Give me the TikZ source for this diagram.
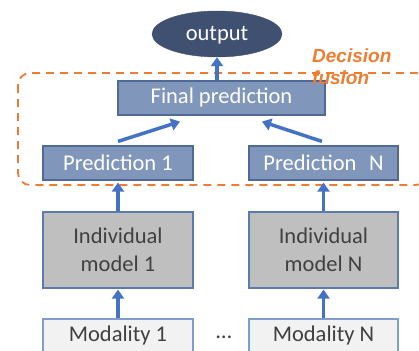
\documentclass[tikz,border=0pt]{standalone}
\usepackage{fontspec}
\setmainfont{Carlito}
\newfontfamily\arialfont{Liberation Sans}
\usetikzlibrary{shapes.geometric,arrows.meta,calc}
\definecolor{predfill}{HTML}{8096BA}
\definecolor{predline}{HTML}{4F6A96}
\definecolor{outfill}{HTML}{3F5070}
\definecolor{modelfill}{HTML}{BFBFBF}
\definecolor{modelline}{HTML}{5B7AAE}
\definecolor{modfill}{HTML}{F2F2F2}
\definecolor{modline}{HTML}{7F9CCF}
\definecolor{arrowblue}{HTML}{4472C4}
\definecolor{fusionorange}{HTML}{ED7D31}
\definecolor{textgrey}{HTML}{404040}
\tikzset{
  boxfont/.style={font=\fontsize{22.5}{27}\selectfont},
  predbox/.style={draw=predline, line width=1.2pt, fill=predfill, text=white,
    minimum height=34pt, inner sep=0pt, boxfont},
  modelbox/.style={draw=modelline, line width=1.2pt, fill=modelfill, text=textgrey,
    minimum width=150pt, minimum height=76pt, inner sep=0pt, align=center,
    font=\fontsize{22.5}{28}\selectfont},
  modbox/.style={draw=modline, line width=1.2pt, fill=modfill, text=textgrey,
    minimum width=150pt, minimum height=33pt, inner sep=0pt, boxfont},
  flow/.style={draw=arrowblue, line width=3.5pt,
    -{Triangle[width=12pt,length=9pt]}},
}
\begin{document}
\begin{tikzpicture}[x=1pt,y=-1pt]
\useasboundingbox (0,0) rectangle (419,350);

% decision fusion frame (runs off the right edge)
\draw[fusionorange, line width=1.8pt, dash pattern=on 8pt off 6pt, rounded corners=12pt]
  (18,73) rectangle (428,185);

% output
\node[ellipse, fill=outfill, draw=outfill, minimum width=130pt, minimum height=46pt,
  inner sep=0pt, text=white, boxfont] (out) at (217,34)
  {\raisebox{-6.5pt}[0pt][0pt]{output}};

% predictions
\node[predbox, minimum width=207pt] (fin) at (221.5,98) {Final prediction};
\node[predbox, minimum width=150pt] (p1) at (118,163) {Prediction 1};
\node[predbox, minimum width=149pt] (pn) at (323.5,163) {Prediction\,\, N};

% individual models
\node[modelbox] (m1) at (118,250) {Individual\\model 1};
\node[modelbox, minimum width=149pt] (mn) at (323.5,250) {Individual\\model N};

% modalities
\node[modbox] (d1) at (118,335.5) {Modality 1};
\node[modbox, minimum width=149pt] (dn) at (323.5,335.5) {Modality N};
\node[text=textgrey, boxfont, anchor=base, inner sep=0pt] (dots) at (224,338) {\dots};

% label of the frame
\node[anchor=north west, inner sep=0pt, align=left, text=fusionorange,
  font=\arialfont\bfseries\itshape\fontsize{19}{21.5}\selectfont] (lbl) at (312,49)
  {Decision\\fusion};

% arrows
\draw[flow] (out.south |- fin.north) -- (out.south);
\draw[flow] ($(p1.north)+(0,-4)$) -- ($(fin.south)+(-41.5,6)$);
\draw[flow] ($(pn.north)+(-1.5,-4)$) -- ($(fin.south)+(40.5,6)$);
\draw[flow] (m1.north) -- ($(p1.south)+(0,2)$);
\draw[flow] (mn.north) -- ($(pn.south)+(0,2)$);
\draw[flow] (d1.north) -- ($(m1.south)+(0,1)$);
\draw[flow] (dn.north) -- ($(mn.south)+(0,1)$);
\end{tikzpicture}
\end{document}
